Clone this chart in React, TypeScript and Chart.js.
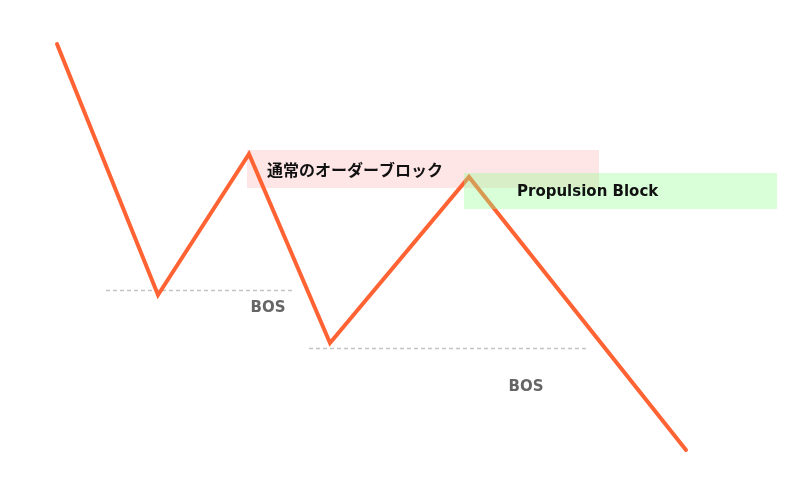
import { useEffect, useRef } from 'react';
import { Chart, registerables } from 'chart.js';

Chart.register(...registerables);

// swing points (time position, price)
const swingX = [57, 158, 249, 330, 469, 686];
const swingPrice = [456, 205, 346, 157, 323, 50];

// zones: [xStart, xEnd, priceTop, priceBottom]
const orderBlock = [247, 599, 350, 312];
const propulsionBlock = [464, 777, 327, 291];

// break of structure levels: [xStart, xEnd, price]
const bosLevels = [
  [106, 295, 210],
  [309, 588, 152],
];

// labels: [text, x, price, font]
const zoneLabels: [string, number, number, string][] = [
  ['通常のオーダーブロック', 267, 330, 'bold 16px "Noto Sans CJK JP", sans-serif'],
  ['Propulsion Block', 517, 308, 'bold 15px "DejaVu Sans", sans-serif'],
];
const bosLabels: [string, number, number][] = [
  ['BOS', 268, 192],
  ['BOS', 526, 113],
];

const zonePlugin = {
  id: 'zones',
  beforeDatasetsDraw(chart: any) {
    const { ctx, scales } = chart;
    const x = scales.x;
    const y = scales.y;
    ctx.save();
    // normal order block sits under the line
    ctx.fillStyle = 'rgba(255, 200, 200, 0.45)';
    ctx.fillRect(
      x.getPixelForValue(orderBlock[0]),
      y.getPixelForValue(orderBlock[2]),
      x.getPixelForValue(orderBlock[1]) - x.getPixelForValue(orderBlock[0]),
      y.getPixelForValue(orderBlock[3]) - y.getPixelForValue(orderBlock[2])
    );
    // BOS dashed lines
    ctx.strokeStyle = '#c4c4c4';
    ctx.lineWidth = 1.5;
    ctx.setLineDash([4, 3]);
    bosLevels.forEach(([x0, x1, p]) => {
      const py = Math.round(y.getPixelForValue(p)) + 0.5;
      ctx.beginPath();
      ctx.moveTo(x.getPixelForValue(x0), py);
      ctx.lineTo(x.getPixelForValue(x1), py);
      ctx.stroke();
    });
    ctx.restore();
  },
  afterDatasetsDraw(chart: any) {
    const { ctx, scales } = chart;
    const x = scales.x;
    const y = scales.y;
    ctx.save();
    // propulsion block is drawn over the line
    ctx.fillStyle = 'rgba(144, 255, 144, 0.35)';
    ctx.fillRect(
      x.getPixelForValue(propulsionBlock[0]),
      y.getPixelForValue(propulsionBlock[2]),
      x.getPixelForValue(propulsionBlock[1]) - x.getPixelForValue(propulsionBlock[0]),
      y.getPixelForValue(propulsionBlock[3]) - y.getPixelForValue(propulsionBlock[2])
    );

    ctx.textBaseline = 'middle';
    ctx.textAlign = 'left';
    ctx.fillStyle = '#111';
    zoneLabels.forEach(([text, tx, p, font]) => {
      ctx.font = font;
      ctx.fillText(text, x.getPixelForValue(tx), y.getPixelForValue(p));
    });

    ctx.fillStyle = '#666';
    ctx.textAlign = 'center';
    ctx.font = 'bold 15px "DejaVu Sans", sans-serif';
    bosLabels.forEach(([text, tx, p]) => {
      ctx.fillText(text, x.getPixelForValue(tx), y.getPixelForValue(p));
    });
    ctx.restore();
  },
};

export default function App() {
  const chartRef = useRef<HTMLCanvasElement>(null);
  const chartInstance = useRef<Chart | null>(null);

  useEffect(() => {
    if (!chartRef.current) return;
    if (chartInstance.current) chartInstance.current.destroy();
    const ctx = chartRef.current.getContext('2d');
    if (!ctx) return;

    chartInstance.current = new Chart(ctx, {
      type: 'line',
      data: {
        datasets: [
          {
            data: swingX.map((v, i) => ({ x: v, y: swingPrice[i] })),
            borderColor: 'rgb(255, 99, 51)',
            borderWidth: 4,
            borderJoinStyle: 'miter',
            borderCapStyle: 'round',
            pointRadius: 0,
            tension: 0,
            fill: false,
          },
        ],
      },
      options: {
        responsive: true,
        maintainAspectRatio: false,
        animation: false,
        layout: { padding: 0 },
        plugins: {
          legend: { display: false },
          tooltip: { enabled: false },
        },
        scales: {
          x: { type: 'linear', min: 0, max: 800, display: false },
          y: { min: 0, max: 500, display: false },
        },
      },
      plugins: [zonePlugin],
    });

    return () => {
      if (chartInstance.current) {
        chartInstance.current.destroy();
        chartInstance.current = null;
      }
    };
  }, []);

  return (
    <div style={{ position: 'fixed', left: 0, top: 0, width: 800, height: 500, background: '#fff' }}>
      <canvas ref={chartRef} />
    </div>
  );
}
